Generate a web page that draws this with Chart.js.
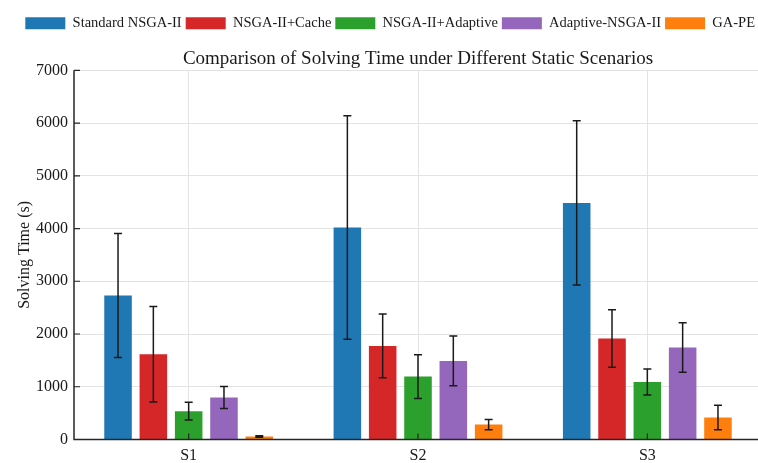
<!DOCTYPE html>
<html>
<head>
<meta charset="utf-8">
<script src="https://cdn.jsdelivr.net/npm/chart.js@4.4.0/dist/chart.umd.min.js"></script>
<style>
  html, body { margin: 0; padding: 0; background: #fff; overflow: hidden; }
  canvas { display: block; }
</style>
</head>
<body>
<canvas id="c" width="765" height="463"></canvas>
<script>
// Scenarios on the x axis
const scenarios = ['S1', 'S2', 'S3'];

// Mean solving time (s) per algorithm
const standardNsga2 = [2730, 4020, 4485];
const nsga2Cache    = [1617, 1775, 1914];
const nsga2Adaptive = [536, 1194, 1092];
const adaptiveNsga2 = [796, 1490, 1744];
const gaPe          = [57, 284, 417];

// Standard deviation (s) per algorithm
const standardNsga2Err = [1175, 2120, 1558];
const nsga2CacheErr    = [905, 605, 545];
const nsga2AdaptiveErr = [168, 415, 246];
const adaptiveNsga2Err = [208, 470, 470];
const gaPeErr          = [12, 97, 233];

// Y axis ticks
const yTicks = [0, 1000, 2000, 3000, 4000, 5000, 6000, 7000];

const seriesNames = ['Standard NSGA-II', 'NSGA-II+Cache', 'NSGA-II+Adaptive', 'Adaptive-NSGA-II', 'GA-PE'];
const seriesColors = ['#1f77b4', '#d62728', '#2ca02c', '#9467bd', '#ff7f0e'];
const seriesValues = [standardNsga2, nsga2Cache, nsga2Adaptive, adaptiveNsga2, gaPe];
const seriesErrors = [standardNsga2Err, nsga2CacheErr, nsga2AdaptiveErr, adaptiveNsga2Err, gaPeErr];

const FONT = "'Liberation Serif', 'Times New Roman', serif";

// Nudge the legend row a little to the left of the plot's right edge
const legendInset = {
  id: 'legendInset',
  afterLayout(chart) {
    if (chart.legend) {
      chart.legend.left -= 3;
      chart.legend.right -= 3;
    }
  }
};

// Error bars with caps, then axis lines and inward ticks on top
const errorBars = {
  id: 'errorBars',
  afterDatasetsDraw(chart) {
    const ctx = chart.ctx;
    const y = chart.scales.y;
    const x = chart.scales.x;
    ctx.save();
    ctx.strokeStyle = '#1a1a1a';
    ctx.lineWidth = 1.5;
    chart.data.datasets.forEach((ds, i) => {
      const meta = chart.getDatasetMeta(i);
      meta.data.forEach((bar, j) => {
        const v = ds.data[j];
        const e = ds.errors[j];
        const top = y.getPixelForValue(v + e);
        const bot = y.getPixelForValue(Math.max(0, v - e));
        const cx = bar.x;
        ctx.beginPath();
        ctx.moveTo(cx, top); ctx.lineTo(cx, bot);
        ctx.moveTo(cx - 4, top); ctx.lineTo(cx + 4, top);
        ctx.moveTo(cx - 4, bot); ctx.lineTo(cx + 4, bot);
        ctx.stroke();
      });
    });
    // axes
    const area = chart.chartArea;
    ctx.strokeStyle = '#262626';
    ctx.lineWidth = 1.5;
    ctx.beginPath();
    ctx.moveTo(area.left, area.top);
    ctx.lineTo(area.left, area.bottom);
    ctx.lineTo(area.right, area.bottom);
    ctx.stroke();
    // inward ticks
    ctx.lineWidth = 1.2;
    ctx.beginPath();
    y.ticks.forEach((t, k) => {
      const py = y.getPixelForTick(k);
      ctx.moveTo(area.left, py); ctx.lineTo(area.left + 6, py);
    });
    x.ticks.forEach((t, k) => {
      const px = x.getPixelForTick(k);
      ctx.moveTo(px, area.bottom); ctx.lineTo(px, area.bottom - 6);
    });
    ctx.stroke();
    ctx.restore();
  }
};

new Chart(document.getElementById('c'), {
  type: 'bar',
  data: {
    labels: scenarios,
    datasets: seriesNames.map((name, i) => ({
      label: name,
      data: seriesValues[i],
      errors: seriesErrors[i],
      backgroundColor: seriesColors[i],
      borderWidth: 0,
      categoryPercentage: 0.77,
      barPercentage: 0.78
    }))
  },
  options: {
    responsive: false,
    animation: false,
    layout: { padding: { left: 0, right: 3, top: 12, bottom: 0 } },
    plugins: {
      legend: {
        position: 'top',
        align: 'end',
        weight: 3000,
        labels: {
          font: { family: FONT, size: 14.5 },
          color: '#1a1a1a',
          boxWidth: 40,
          boxHeight: 12,
          padding: 4
        }
      },
      title: {
        display: true,
        fullSize: false,
        weight: 500,
        text: 'Comparison of Solving Time under Different Static Scenarios',
        font: { family: FONT, size: 19, weight: 'normal' },
        color: '#1a1a1a',
        padding: { top: 7, bottom: 0 }
      },
      tooltip: { enabled: false }
    },
    scales: {
      x: {
        grid: { offset: false, color: '#e3e3e3', lineWidth: 1, drawTicks: false },
        border: { display: false },
        ticks: { font: { family: FONT, size: 16 }, color: '#1a1a1a', padding: 7 },
        afterFit(scale) { scale.height = 23.5; }
      },
      y: {
        min: 0,
        max: 7000,
        afterBuildTicks(scale) { scale.ticks = yTicks.map(v => ({ value: v })); },
        grid: { color: '#e3e3e3', lineWidth: 1, drawTicks: false },
        border: { display: false },
        ticks: {
          font: { family: FONT, size: 16 },
          color: '#1a1a1a',
          padding: 6,
          callback: (v) => String(v)
        },
        title: {
          display: true,
          text: 'Solving Time (s)',
          font: { family: FONT, size: 16 },
          color: '#1a1a1a',
          padding: { top: 15, bottom: 0 }
        },
        afterFit(scale) { scale.width = 74; }
      }
    }
  },
  plugins: [legendInset, errorBars]
});
</script>
</body>
</html>
